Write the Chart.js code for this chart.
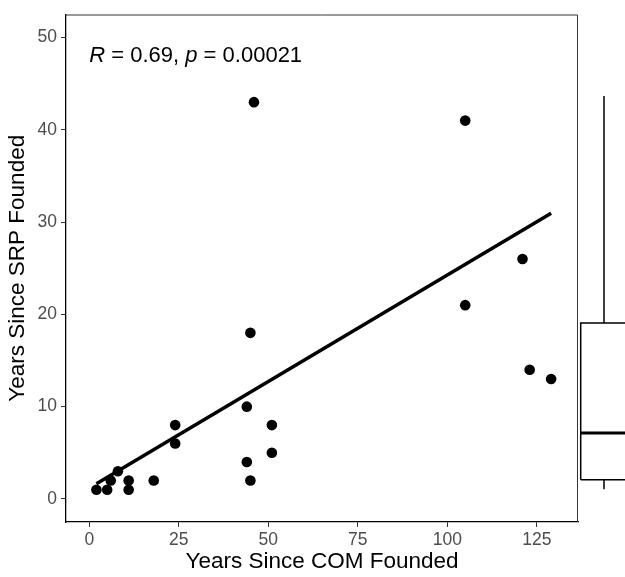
<!DOCTYPE html>
<html>
<head>
<meta charset="utf-8">
<script src="https://cdn.jsdelivr.net/npm/chart.js@4"></script>
<style>
body { margin: 0; background: #fff; }
#wrap { position: relative; width: 625px; height: 577px; }
#mainChart { position: absolute; left: 0; top: 0; }
#boxChart { position: absolute; left: 578px; top: 0; }
</style>
</head>
<body>
<div id="wrap">
<canvas id="mainChart" width="625" height="577"></canvas>
<canvas id="boxChart" width="47" height="577"></canvas>
</div>
<script>
// data
const comYears = [2, 5, 6, 8, 11, 11, 18, 24, 24, 44, 44, 45, 45, 46, 51, 51, 105, 105, 121, 123, 129]
const srpYears = [1, 1, 2, 3, 2, 1, 2, 8, 6, 10, 4, 2, 18, 43, 8, 5, 41, 21, 26, 14, 13]
const fitX = [2, 129]
const fitY = [1.64, 30.97]
const xTicks = [0, 25, 50, 75, 100, 125]
const yTicks = [0, 10, 20, 30, 40, 50]
// marginal box: lower whisker, q1, median, q3, upper whisker
const boxStats = [1, 2, 7, 18.75, 43]
const statLabel = ['R', ' = 0.69, ', 'p', ' = 0.00021']

const fontFamily = '"Liberation Sans", Arial, sans-serif'
Chart.defaults.font.family = fontFamily
Chart.defaults.animation = false

const points = comYears.map((x, i) => ({ x: x, y: srpYears[i] }))
const fitLine = fitX.map((x, i) => ({ x: x, y: fitY[i] }))

const yMin = -2.5, yMax = 52.5

const panelPlugin = {
    id: 'panel',
    afterDraw(chart) {
        const ctx = chart.ctx
        const a = chart.chartArea
        ctx.save()
        ctx.strokeStyle = '#333'
        ctx.lineWidth = 1
        ctx.beginPath()
        ctx.moveTo(a.left, a.top + 0.5)
        ctx.lineTo(a.right - 0.5, a.top + 0.5)
        ctx.lineTo(a.right - 0.5, a.bottom)
        ctx.stroke()

        // correlation label, placed in data space at the left
        const px = chart.scales.x.getPixelForValue(0)
        const py = chart.scales.y.getPixelForValue(47.3)
        ctx.fillStyle = '#000'
        ctx.textBaseline = 'alphabetic'
        ctx.textAlign = 'left'
        let cx = px
        statLabel.forEach((part, i) => {
            ctx.font = (i % 2 === 0 ? 'italic ' : '') + '22px ' + fontFamily
            ctx.fillText(part, cx, py)
            cx += ctx.measureText(part).width
        })
        ctx.restore()
    }
}

new Chart(document.getElementById('mainChart'), {
    type: 'scatter',
    data: {
        datasets: [{
            data: points,
            backgroundColor: '#000',
            borderWidth: 0,
            pointRadius: 5.3
        }, {
            data: fitLine,
            showLine: true,
            borderColor: '#000',
            borderWidth: 3.5,
            pointRadius: 0
        }]
    },
    options: {
        responsive: false,
        layout: { padding: { top: 7, right: 47, left: 0, bottom: 0 } },
        plugins: { legend: { display: false }, tooltip: { enabled: false } },
        scales: {
            x: {
                min: -6.5,
                max: 136.5,
                afterBuildTicks: s => { s.ticks = xTicks.map(v => ({ value: v })) },
                afterFit: s => { s.height = 55 },
                grid: { drawOnChartArea: false, tickLength: 5, tickColor: '#333', tickWidth: 1 },
                border: { color: '#000', width: 1.3 },
                ticks: { color: '#4d4d4d', font: { size: 17.5 }, padding: 3 },
                title: { display: true, text: 'Years Since COM Founded', color: '#000',
                    font: { size: 22.5 }, padding: { top: 0, bottom: 1.5 } }
            },
            y: {
                min: yMin,
                max: yMax,
                afterBuildTicks: s => { s.ticks = yTicks.map(v => ({ value: v })) },
                afterFit: s => { s.width = 66 },
                grid: { drawOnChartArea: false, tickLength: 5, tickColor: '#333', tickWidth: 1 },
                border: { color: '#000', width: 1.3 },
                ticks: { color: '#4d4d4d', font: { size: 17.5 }, padding: 4 },
                title: { display: true, text: 'Years Since SRP Founded', color: '#000',
                    font: { size: 22.5 }, padding: { top: 4, bottom: 0 } }
            }
        }
    },
    plugins: [panelPlugin]
})

// marginal box plot, same y scale as the main panel
const [lo, q1, med, q3, hi] = boxStats
new Chart(document.getElementById('boxChart'), {
    type: 'scatter',
    data: {
        datasets: [{
            data: [{ x: -1, y: q1 }, { x: -1, y: q3 }, { x: 1, y: q3 }, { x: 1, y: q1 }, { x: -1, y: q1 }],
            showLine: true, borderColor: '#000', borderWidth: 1.5, pointRadius: 0
        }, {
            data: [{ x: -1, y: med }, { x: 1, y: med }],
            showLine: true, borderColor: '#000', borderWidth: 3, pointRadius: 0
        }, {
            data: [{ x: 0, y: q3 }, { x: 0, y: hi }],
            showLine: true, borderColor: '#000', borderWidth: 1.5, pointRadius: 0
        }, {
            data: [{ x: 0, y: q1 }, { x: 0, y: lo }],
            showLine: true, borderColor: '#000', borderWidth: 1.5, pointRadius: 0
        }]
    },
    options: {
        responsive: false,
        layout: { padding: { top: 7, bottom: 55, left: 0, right: 0 } },
        plugins: { legend: { display: false }, tooltip: { enabled: false } },
        scales: {
            x: { display: false, min: -1.116, max: 0.901 },
            y: { display: false, min: yMin, max: yMax }
        }
    }
})
</script>
</body>
</html>
